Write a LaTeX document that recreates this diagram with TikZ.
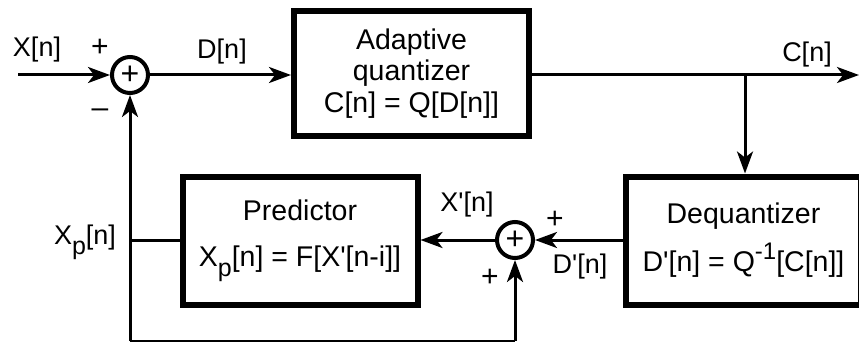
\documentclass[tikz,border=0pt]{standalone}
\usepackage{fontspec}
\setmainfont{Liberation Sans}
\usetikzlibrary{arrows.meta}
\newcommand\pr{\textquotesingle}
\newcommand\subp{\raisebox{-0.38em}{\fontsize{25}{25}\selectfont p}}
\newcommand\supm{\raisebox{0.45em}{\fontsize{24}{24}\selectfont -1}}
\begin{document}
\begin{tikzpicture}[x=1pt,y=-1pt,
  conn/.style={line width=3pt},
  arr/.style={conn,-{Stealth[length=22pt,width=16pt,inset=6pt]}},
  blk/.style={draw,line width=6pt,minimum width=235pt,align=center,font=\fontsize{28.5}{31.5}\selectfont,inner sep=0pt},
  sumnode/.style={draw,circle,line width=4pt,minimum size=36pt,inner sep=0pt,font=\fontsize{32}{32}\selectfont},
  lbl/.style={font=\fontsize{27}{30}\selectfont,inner sep=0pt},
  sgn/.style={font=\fontsize{30}{30}\selectfont,inner sep=0pt}]
\useasboundingbox (0,0) rectangle (859,342);
% blocks
\node[blk,minimum height=125pt] (aq) at (411.5,73.5) {Adaptive\\quantizer\\C[n] = Q[D[n]]};
\node[blk,minimum height=128pt] (pred) at (300,241) {Predictor\\[14pt]X\subp[n] = F[X\pr[n-i]]};
\node[blk,minimum height=128pt] (dq) at (743.5,240.5) {Dequantizer\\[12pt]D\pr[n] = Q\supm[C[n]]};
% summers
\node[sumnode] (s1) at (130,75) {+};
\node[sumnode] (s2) at (515,240) {+};
% coordinates
\coordinate (in) at (18,75);
\coordinate (out) at (859,75);
\coordinate (br) at (745,75);
\coordinate (jl) at (130,240);
\coordinate (bl) at (130,341);
\coordinate (bm) at (515,341);
% connectors
\draw[arr] (in) -- (s1.west);
\draw[arr] (s1.east) -- (s1.east -| aq.west);
\draw[arr] (aq.east |- out) -- (out);
\draw[arr] (br) -- (dq.north -| br);
\draw[arr] (dq.west |- s2) -- (s2.east);
\draw[arr] (s2.west) -- (pred.east |- s2);
\draw[conn] (pred.west |- jl) -- (jl);
\draw[arr] (bl) -- (s1.south);
\draw[conn] (bl) -- (bm);
\draw[arr] (bm) -- (s2.south);
% labels
\node[lbl] (lx) at (37,50) {X[n]};
\node[sgn] (lp1) at (100,48) {+};
\node[sgn] (lm1) at (100,113) {--};
\node[lbl] (ld) at (222,52) {D[n]};
\node[lbl] (lc) at (807,55) {C[n]};
\node[lbl] (lxp) at (467,205) {X\pr[n]};
\node[sgn] (lp2) at (555,220) {+};
\node[lbl] (ldp) at (580,267) {D\pr[n]};
\node[sgn] (lp3) at (490,278) {+};
\node[lbl] (lxpn) at (85,242) {X\subp[n]};
\end{tikzpicture}
\end{document}
